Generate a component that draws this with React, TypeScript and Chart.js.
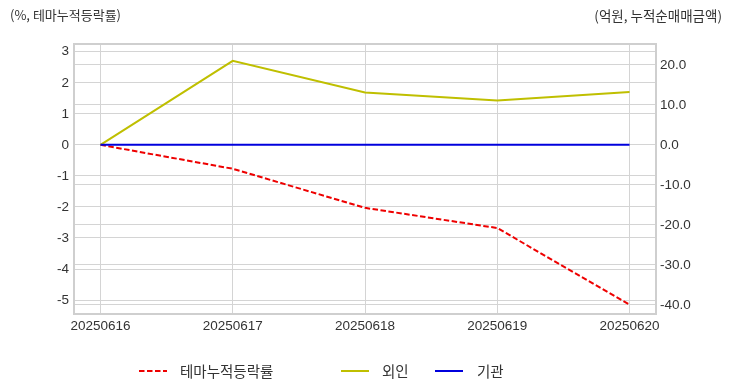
import React, { useEffect, useRef } from "react";
import { Chart, registerables } from "chart.js";

Chart.register(...registerables);

const categories = ["20250616", "20250617", "20250618", "20250619", "20250620"];
const themeReturn = [0, -0.77, -2.03, -2.68, -5.15];
const foreignNet = [0, 21.0, 13.1, 11.1, 13.2];
const institutionNet = [0, 0, 0, 0, 0];
const leftTicks = [-5, -4, -3, -2, -1, 0, 1, 2, 3];
const rightTicks = [-40, -30, -20, -10, 0, 10, 20];
const seriesNames = ["테마누적등락률", "외인", "기관"];
const leftTitle = "(%, 테마누적등락률)";
const rightTitle = "(억원, 누적순매매금액)";

const FONT = "'Liberation Sans', 'Noto Sans CJK KR', sans-serif";
const KFONT = "'Noto Sans CJK KR', 'Liberation Sans', sans-serif";
const GRID = "#d4d4d4";

const framePlugin = {
  id: "frame",
  beforeDatasetsDraw(chart: any) {
    const { ctx, chartArea } = chart;
    ctx.save();
    ctx.strokeStyle = "#cfcfcf";
    ctx.lineWidth = 2;
    ctx.strokeRect(chartArea.left, chartArea.top, chartArea.right - chartArea.left, chartArea.bottom - chartArea.top);
    ctx.restore();
  },
};

export default function App() {
  const ref = useRef<HTMLCanvasElement | null>(null);

  useEffect(() => {
    if (!ref.current) return;
    const toPts = (arr: number[]) => arr.map((v, i) => ({ x: i, y: v }));
    const chart = new Chart(ref.current, {
      type: "line",
      data: {
        datasets: [
          {
            label: seriesNames[0],
            data: toPts(themeReturn),
            borderColor: "#ee0000",
            borderWidth: 2,
            borderDash: [5.5, 2.5],
            pointRadius: 0,
            yAxisID: "y",
            order: 2,
          },
          {
            label: seriesNames[1],
            data: toPts(foreignNet),
            borderColor: "#bfbf00",
            borderWidth: 2,
            pointRadius: 0,
            yAxisID: "y1",
            order: 1,
          },
          {
            label: seriesNames[2],
            data: toPts(institutionNet),
            borderColor: "#0000dd",
            borderWidth: 2,
            pointRadius: 0,
            yAxisID: "y1",
            order: 0,
          },
        ],
      },
      options: {
        animation: false,
        responsive: true,
        maintainAspectRatio: false,
        layout: { padding: { top: 44, left: 0, right: 0, bottom: 0 } },
        plugins: { legend: { display: false }, tooltip: { enabled: false } },
        scales: {
          x: {
            type: "linear",
            min: -0.2,
            max: 4.2,
            afterBuildTicks: (s: any) => {
              s.ticks = categories.map((_, i) => ({ value: i }));
            },
            afterFit: (s: any) => {
              s.height = 78;
            },
            ticks: {
              callback: (v: any) => categories[Math.round(Number(v))] ?? "",
              font: { family: FONT, size: 13.5 },
              color: "#333",
              padding: 4,
              maxRotation: 0,
              autoSkip: false,
            },
            grid: { color: GRID, lineWidth: 1, drawTicks: false },
            border: { display: false },
          },
          y: {
            type: "linear",
            position: "left",
            min: -5.45,
            max: 3.25,
            afterBuildTicks: (s: any) => {
              s.ticks = leftTicks.map((v) => ({ value: v }));
            },
            afterFit: (s: any) => {
              s.width = 74;
            },
            ticks: {
              callback: (v: any) => String(v),
              font: { family: FONT, size: 13.5 },
              color: "#333",
              padding: 5,
            },
            grid: { color: GRID, lineWidth: 1, drawTicks: false },
            border: { display: false },
          },
          y1: {
            type: "linear",
            position: "right",
            min: -42.25,
            max: 25.2,
            afterBuildTicks: (s: any) => {
              s.ticks = rightTicks.map((v) => ({ value: v }));
            },
            afterFit: (s: any) => {
              s.width = 76;
            },
            ticks: {
              callback: (v: any) => Number(v).toFixed(1),
              font: { family: FONT, size: 13.5 },
              color: "#333",
              padding: 4,
            },
            grid: { color: GRID, lineWidth: 1, drawTicks: false },
            border: { display: false },
          },
        },
      },
      plugins: [framePlugin],
    } as any);
    return () => chart.destroy();
  }, []);

  const textStyle: React.CSSProperties = {
    position: "absolute",
    fontFamily: KFONT,
    color: "#333",
    whiteSpace: "nowrap",
  };

  const legendItems = [
    { name: seriesNames[0], color: "#ee0000", dash: "5.5 2.5", x1: 139, tx: 180 },
    { name: seriesNames[1], color: "#bfbf00", dash: "", x1: 341, tx: 382 },
    { name: seriesNames[2], color: "#0000dd", dash: "", x1: 435, tx: 477 },
  ];

  return (
    <div style={{ position: "absolute", left: 0, top: 0, width: 732, height: 392, background: "#fff", overflow: "hidden" }}>
      <canvas ref={ref} />
      <div style={{ ...textStyle, left: 10, top: 5, fontSize: 13, lineHeight: "20px" }}>{leftTitle}</div>
      <div style={{ ...textStyle, right: 10, top: 5, fontSize: 13.5, lineHeight: "20px" }}>{rightTitle}</div>
      {legendItems.map((it) => (
        <React.Fragment key={it.name}>
          <svg style={{ position: "absolute", left: it.x1, top: 365, width: 30, height: 12 }}>
            <line x1={0} y1={6} x2={28} y2={6} stroke={it.color} strokeWidth={2} strokeDasharray={it.dash || undefined} />
          </svg>
          <div style={{ ...textStyle, left: it.tx, top: 361, fontSize: 14.5, lineHeight: "20px" }}>{it.name}</div>
        </React.Fragment>
      ))}
    </div>
  );
}
